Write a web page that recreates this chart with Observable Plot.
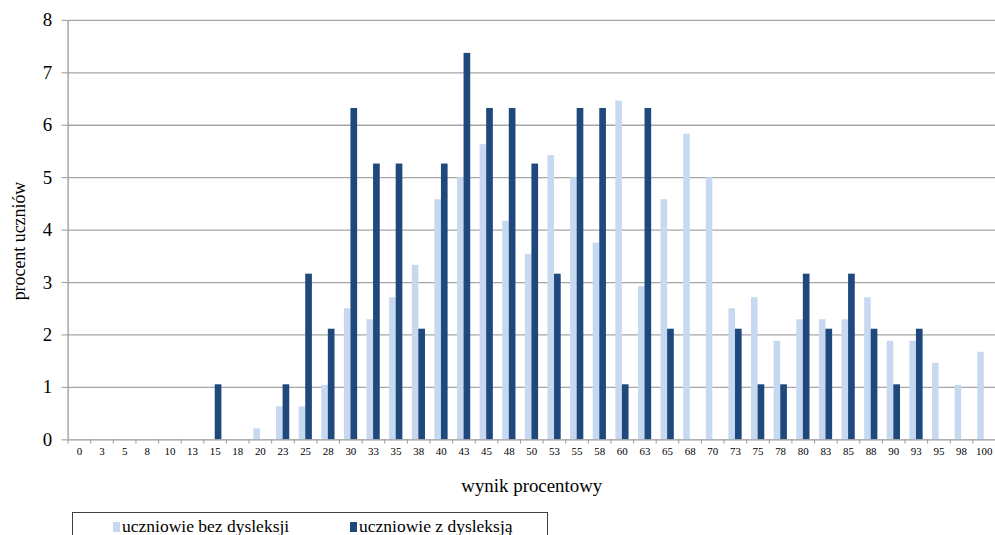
<!DOCTYPE html>
<html><head><meta charset="utf-8">
<script src="https://cdn.jsdelivr.net/npm/d3@7"></script>
<script src="https://cdn.jsdelivr.net/npm/@observablehq/plot@0.6"></script>
<style>
html,body{margin:0;padding:0;overflow:hidden;background:#fff;width:995px;height:535px;position:relative}
#chart{position:absolute;left:0;top:0}
#legend{position:absolute;left:72px;top:512px;width:474px;height:40px;border:1px solid #404040;font-family:"Liberation Serif","DejaVu Serif",serif;font-size:17.5px;color:#000}
.item{position:absolute;top:3px;white-space:nowrap}
.sw{display:inline-block;width:7px;height:10px;margin-right:2px}
#chart svg text{font-family:"Liberation Serif","DejaVu Serif",serif}
</style></head><body>
<div id="chart"></div>
<div id="legend"></div>
<script>
const categories = ["0","3","5","8","10","13","15","18","20","23","25","28","30","33","35","38","40","43","45","48","50","53","55","58","60","63","65","68","70","73","75","78","80","83","85","88","90","93","95","98","100"];
const bezDysleksji = [0,0,0,0,0,0,0,0,0.21,0.63,0.63,1.04,2.5,2.29,2.71,3.33,4.58,5.0,5.63,4.17,3.54,5.42,5.0,3.75,6.46,2.92,4.58,5.83,5.0,2.5,2.71,1.88,2.29,2.29,2.29,2.71,1.88,1.88,1.46,1.04,1.67];
const zDysleksja = [0,0,0,0,0,0,1.05,0,0,1.05,3.16,2.11,6.32,5.26,5.26,2.11,5.26,7.37,6.32,6.32,5.26,3.16,6.32,6.32,1.05,6.32,2.11,0,0,2.11,1.05,1.05,3.16,2.11,3.16,2.11,1.05,2.11,0,0,0];
const seriesNames = ["uczniowie bez dysleksji","uczniowie z dysleksją"];
const seriesColors = ["#c6d9f1","#1f497d"];
const yTicks = [0,1,2,3,4,5,6,7,8];
const xTitle = "wynik procentowy";
const yTitle = "procent uczniów";

const W = 1001, H = 500, mL = 68, mR = 0, mT = 20, mB = 58;
const step = (W - mL - mR) / categories.length;

const light = categories.map((c,i)=>({cat:c, value:bezDysleksji[i]})).filter(d=>d.value>0);
const dark = categories.map((c,i)=>({cat:c, value:zDysleksja[i]})).filter(d=>d.value>0);

const font = '"Liberation Serif", "DejaVu Serif", serif';
const chart = Plot.plot({
  width: W, height: H, marginLeft: mL, marginRight: mR, marginTop: mT, marginBottom: mB,
  style: {fontFamily: font, color: "#000", background: "#fff"},
  x: {type: "band", domain: categories, padding: 0, axis: null},
  y: {domain: [0, 8], axis: null},
  marks: [
    Plot.gridY(yTicks.slice(1), {stroke: "#a6a6a6", strokeOpacity: 1, strokeWidth: 1.3}),
    Plot.barY(light, {x: "cat", y: "value", fill: seriesColors[0], insetLeft: step*0.215, insetRight: step*0.495}),
    Plot.barY(dark, {x: "cat", y: "value", fill: seriesColors[1], insetLeft: step*0.505, insetRight: step*0.2}),
    Plot.ruleY([0], {stroke: "#999", strokeWidth: 1.3}),
    Plot.ruleX([categories[0]], {y1: 0, y2: 8, dx: -step/2, stroke: "#999", strokeWidth: 1.3}),
    Plot.ruleX(categories, {y1: 0, y2: -0.08, dx: -step/2, stroke: "#999"}),
    Plot.axisY({ticks: yTicks, tickSize: 6, tickPadding: 10, fontSize: 19, label: null, stroke: "#999"}),
    Plot.axisX({tickSize: 0, tickPadding: 7, fontSize: 11, label: null}),
    Plot.text([xTitle], {frameAnchor: "bottom", textAnchor: "middle", lineAnchor: "middle", dy: 46, fontSize: 19, fill: "#000"}),
    Plot.text([yTitle], {frameAnchor: "left", textAnchor: "middle", lineAnchor: "middle", rotate: -90, dx: -49, dy: 11, fontSize: 18, fill: "#000"})
  ]
});
document.getElementById("chart").appendChild(chart);

const leg = document.getElementById("legend");
const lefts = [40, 277];
seriesNames.forEach((n,i)=>{
  const s = document.createElement("span");
  s.className = "item";
  s.style.left = lefts[i] + "px";
  s.innerHTML = `<span class="sw" style="background:${seriesColors[i]}"></span>${n}`;
  leg.appendChild(s);
});
</script>
</body></html>
